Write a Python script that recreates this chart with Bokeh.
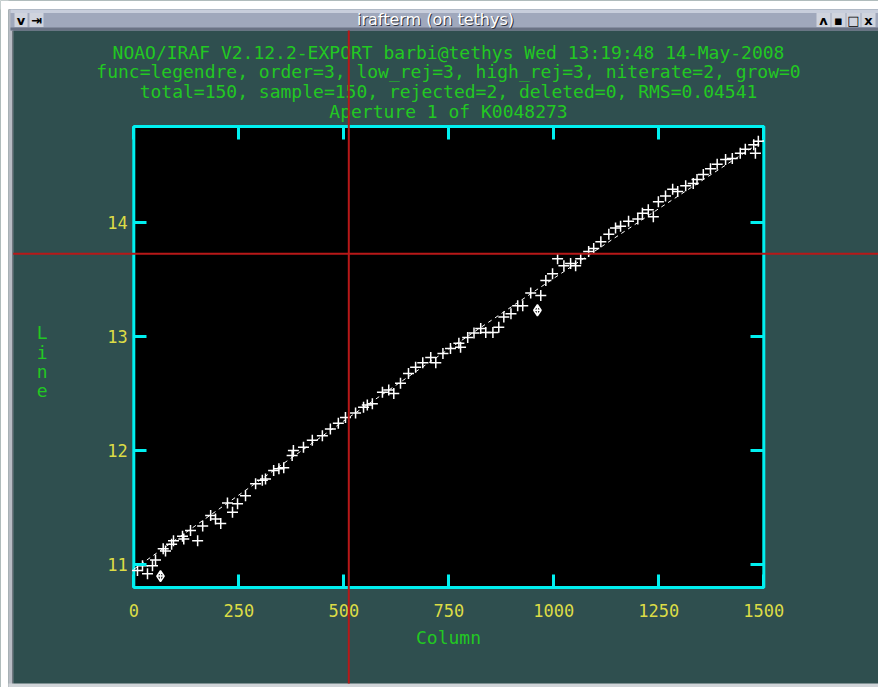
from bokeh.plotting import figure
from bokeh.models import Range1d, LinearAxis, FixedTicker, Label, BoxAnnotation, ColumnDataSource
from bokeh.embed import file_html
from bokeh.resources import INLINE

# ---- data ----
col = [8.8, 20.7, 32.6, 44.5, 51.7, 70, 75.5, 90, 94.5, 116, 119, 135, 152, 164, 183, 194.5,
       207, 223, 235, 247, 266, 290, 306, 313.6, 333, 345.5, 357, 377, 380, 404, 425, 449,
       468, 487, 504, 528, 547, 556, 568, 592, 607, 619, 635, 654, 671, 688, 707, 719, 736,
       754, 774, 778, 795, 810, 826, 838, 855, 869, 881, 898, 914, 926, 945, 969, 981, 997,
       1009, 1024, 1040, 1052, 1064, 1083, 1095, 1112, 1131, 1147, 1159, 1178, 1200, 1211,
       1225, 1237, 1249, 1266, 1283, 1295, 1314, 1332, 1341, 1356, 1373, 1389, 1409, 1425,
       1444, 1456, 1480, 1476, 1487]
line = [10.95, 10.99, 10.92, 10.99, 11.04, 11.14, 11.12, 11.18, 11.21, 11.25, 11.225, 11.30,
        11.21, 11.34, 11.43, 11.40, 11.36, 11.54, 11.46, 11.535, 11.605, 11.71, 11.74, 11.75,
        11.825, 11.84, 11.85, 11.956, 12.0, 12.03, 12.09, 12.13, 12.19, 12.24, 12.29, 12.33,
        12.38, 12.40, 12.41, 12.51, 12.53, 12.50, 12.59, 12.675, 12.73, 12.77, 12.815, 12.77,
        12.85, 12.895, 12.94, 12.906, 12.99, 13.03, 13.07, 13.035, 13.035, 13.08, 13.17, 13.20,
        13.27, 13.27, 13.38, 13.36, 13.49, 13.55, 13.68, 13.62, 13.64, 13.62, 13.68, 13.745,
        13.77, 13.83, 13.895, 13.95, 13.965, 14.01, 14.03, 14.08, 14.11, 14.05, 14.18, 14.23,
        14.29, 14.27, 14.32, 14.34, 14.375, 14.42, 14.47, 14.51, 14.55, 14.56, 14.605, 14.64,
        14.605, 14.68, 14.71]
rej_col = [63.6, 961]
rej_line = [10.90, 13.23]
fit_col = [0, 250, 500, 750, 1000, 1250, 1500]
fit_line = [10.96, 11.61, 12.26, 12.89, 13.51, 14.12, 14.72]
x_ticks = [0, 250, 500, 750, 1000, 1250, 1500]
y_ticks = [11, 12, 13, 14]
x_lim = (0, 1500)
y_lim = (10.80, 14.84)
header_lines = [
    "NOAO/IRAF V2.12.2-EXPORT barbi@tethys Wed 13:19:48 14-May-2008",
    "func=legendre, order=3, low_rej=3, high_rej=3, niterate=2, grow=0",
    "total=150, sample=150, rejected=2, deleted=0, RMS=0.04541",
    "Aperture 1 of K0048273",
]
window_title = "irafterm (on tethys)"
x_label = "Column"
y_label = "Line"

# ---- styles ----
SLATE = "#2F4F4F"
CYAN = "#00F0F0"
GREEN = "#22C822"
YELLOW = "#DCDC46"
RED = "#B81818"
MONO = "DejaVu Sans Mono"

W, H = 878, 687
# plot box position on the canvas (pixels)
BL, BR, BT, BB = 133.3, 763.3, 126.0, 587.0
sx = (BR - BL) / (x_lim[1] - x_lim[0])
sy = (BB - BT) / (y_lim[1] - y_lim[0])
xr = Range1d(x_lim[0] - BL / sx, x_lim[1] + (W - BR) / sx)
yr = Range1d(y_lim[0] - (H - BB) / sy, y_lim[1] + BT / sy)

p = figure(width=W, height=H, output_backend="svg", toolbar_location=None,
           x_range=xr, y_range=yr, min_border=0, x_axis_location=None, y_axis_location=None)
p.background_fill_color = SLATE
p.border_fill_color = SLATE
p.outline_line_color = None
p.grid.visible = False

# black plot box with cyan frame
p.add_layout(BoxAnnotation(left=x_lim[0], right=x_lim[1], bottom=y_lim[0], top=y_lim[1],
                           fill_color="black", fill_alpha=1, line_color=CYAN, line_width=3,
                           line_alpha=1, level="underlay"))

def make_axis(ticks, loc, bounds, show_labels):
    ax = LinearAxis(ticker=FixedTicker(ticks=ticks), fixed_location=loc, bounds=bounds)
    ax.axis_line_color = None
    ax.major_tick_in = 13
    ax.major_tick_out = 0
    ax.major_tick_line_color = CYAN
    ax.major_tick_line_width = 3
    ax.minor_tick_line_color = None
    ax.major_label_text_font = MONO
    ax.major_label_text_font_size = "17px"
    ax.major_label_text_color = YELLOW if show_labels else None
    return ax

xb = make_axis(x_ticks, y_lim[0], x_lim, True)
xb.major_label_standoff = 16
xb.axis_label = x_label
xb.axis_label_text_font = MONO
xb.axis_label_text_font_size = "18px"
xb.axis_label_text_font_style = "normal"
xb.axis_label_text_color = GREEN
xb.axis_label_standoff = 7
p.add_layout(xb, "below")
yl = make_axis(y_ticks, x_lim[0], y_lim, True)
yl.major_label_standoff = 6
p.add_layout(yl, "left")
p.add_layout(make_axis(x_ticks, y_lim[1], x_lim, False), "above")
p.add_layout(make_axis(y_ticks, x_lim[1], y_lim, False), "right")

# fit and data
p.line(fit_col, fit_line, line_color="white", line_width=1, line_dash="4 4")
src = ColumnDataSource(dict(x=col, y=line))
p.scatter("x", "y", source=src, marker="cross", size=11, line_color="white", line_width=1.5)
p.scatter(rej_col, rej_line, marker="diamond_cross", size=11, line_color="white",
          fill_color=None, line_width=1.5)

def cbox(l, r, t, b, color, level="annotation"):
    p.add_layout(BoxAnnotation(left=l, right=r, top=t, bottom=b,
                               left_units="canvas", right_units="canvas",
                               top_units="canvas", bottom_units="canvas",
                               fill_color=color, fill_alpha=1, line_color=None,
                               level=level))

# window frame and title bar
cbox(0, W, 0, 9, "white")
cbox(0, 8, 0, H, "white")
cbox(8, 12.7, 9, H, "#B8BCC4")
cbox(11.5, 12.7, 30, H, "#707880")
cbox(8, W, 683, H, "#D0D4D8")
cbox(10, W, 9, 30, "#A0A8BC")
cbox(10, W, 9, 12.5, "#C8CEDC")
cbox(10, W, 27, 30, "#6A7284")
for (l, r) in [(14, 27), (29, 43), (816, 830), (831, 845), (846, 860), (861, 875)]:
    cbox(l, r, 12.5, 26.5, "#D0D4DE")

def clabel(x, y, text, color, font, size, style="normal", align="center"):
    p.add_layout(Label(x=x, y=y, x_units="canvas", y_units="canvas", text=text,
                       text_color=color, text_font=font, text_font_size=size,
                       text_font_style=style, text_align=align, text_baseline="middle"))

clabel(436, 20, window_title, "#303440", "DejaVu Sans", "16px")
clabel(435, 19, window_title, "white", "DejaVu Sans", "16px")
for x, t in [(20.5, "v"), (36, "⇥"), (823, "ʌ"), (838, "▪"), (853, "□"), (868, "x")]:
    clabel(x, 19.5, t, "black", "DejaVu Sans", "13px", "bold")

for y, t in zip([52, 71.3, 91.3, 110.7], header_lines):
    clabel(448, y, t, GREEN, MONO, "18px")
for y, ch in zip([331.7, 351.7, 371, 390], y_label):
    clabel(41.7, y, ch, GREEN, MONO, "18px")

# red cursor crosshair
cbox(347.3, 349.3, 30, 683, RED, "overlay")
cbox(12.7, W, 252.3, 254.3, RED, "overlay")

open("out.html", "w").write(file_html(p, INLINE))
